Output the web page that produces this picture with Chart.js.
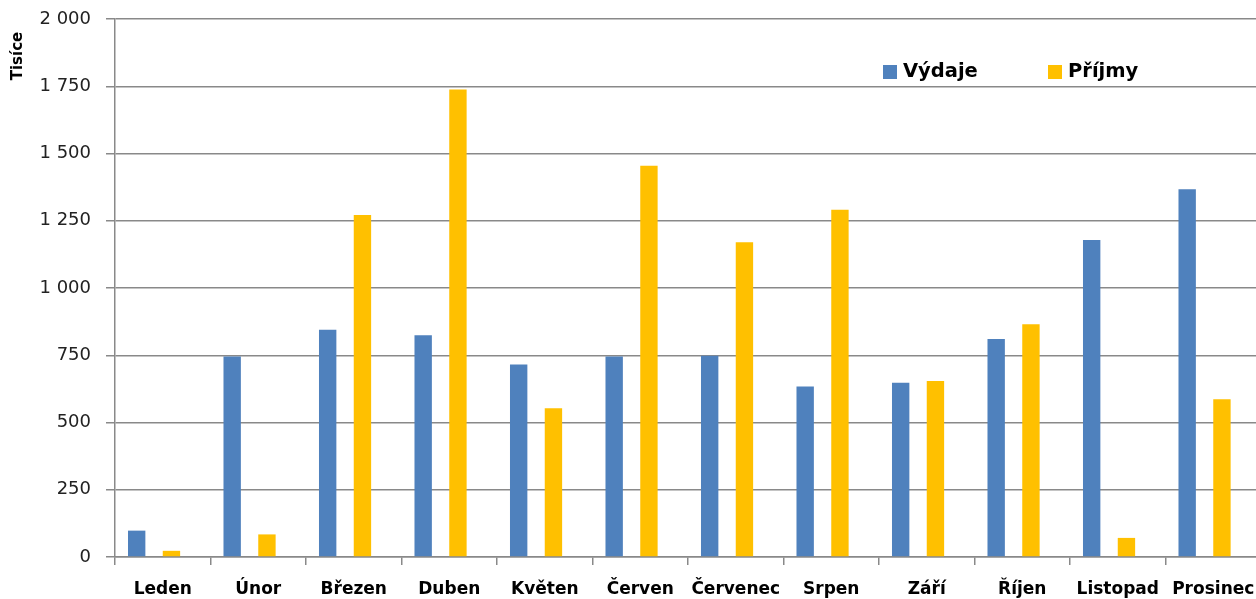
<!DOCTYPE html>
<html><head><meta charset="utf-8">
<script src="https://cdn.jsdelivr.net/npm/chart.js@4/dist/chart.umd.min.js"></script>
<style>
html,body{margin:0;padding:0;background:#fff;overflow:hidden;}
#wrap{position:relative;width:1261px;height:599px;}
</style></head><body>
<div id="wrap"><canvas id="c"></canvas></div>
<script>
const months = ['Leden','Únor','Březen','Duben','Květen','Červen','Červenec','Srpen','Září','Říjen','Listopad','Prosinec'];
const vydaje = [98,745,845,824,716,745,748,634,648,810,1178,1367];
const prijmy = [23,84,1271,1738,553,1454,1170,1291,654,865,71,586];
const yTicks = [0,250,500,750,1000,1250,1500,1750,2000];
const yTickLabels = ['0','250','500','750','1 000','1 250','1 500','1 750','2 000'];
const axisTitle = 'Tisíce';
const seriesNames = ['Výdaje','Příjmy'];
const seriesColors = ['#4F81BD','#FFC000'];
const spacer = months.map(() => null);

const gridColor = '#898989';

const overlay = {
  id: 'overlay',
  afterDraw(chart, args, opts) {
    const ctx = chart.ctx;
    ctx.save();
    ctx.translate(opts.titleX, opts.titleY);
    ctx.rotate(-Math.PI / 2);
    ctx.font = 'bold 15px "DejaVu Sans"';
    ctx.fillStyle = '#000';
    ctx.textAlign = 'center';
    ctx.textBaseline = 'middle';
    ctx.fillText(axisTitle, 0, 0);
    ctx.restore();

    ctx.save();
    ctx.font = 'bold 19.5px "DejaVu Sans"';
    ctx.textBaseline = 'middle';
    ctx.textAlign = 'left';
    seriesNames.forEach((name, i) => {
      const x = opts.legendX[i];
      ctx.fillStyle = seriesColors[i];
      ctx.fillRect(x, opts.legendY - 7, 14, 14);
      ctx.fillStyle = '#000';
      ctx.fillText(name, x + 20, opts.legendY);
    });
    ctx.restore();
  }
};

new Chart(document.getElementById('c'), {
  type: 'bar',
  data: {
    labels: months,
    datasets: [
      { label: seriesNames[0], data: vydaje, backgroundColor: seriesColors[0] },
      { label: '', data: spacer, backgroundColor: 'rgba(0,0,0,0)' },
      { label: seriesNames[1], data: prijmy, backgroundColor: seriesColors[1] },
      { label: '', data: spacer, backgroundColor: 'rgba(0,0,0,0)' }
    ]
  },
  plugins: [overlay],
  options: {
    responsive: true,
    maintainAspectRatio: false,
    animation: false,
    layout: { padding: { top: 19, left: 0, right: 0, bottom: 0 } },
    datasets: { bar: { categoryPercentage: 0.728, barPercentage: 1 } },
    plugins: {
      legend: { display: false },
      tooltip: { enabled: false },
      overlay: { titleX: 18, titleY: 56, legendX: [883, 1048], legendY: 72 }
    },
    scales: {
      x: {
        grid: { drawOnChartArea: false, drawTicks: true, tickLength: 8, color: gridColor, lineWidth: 1.5, offset: true },
        border: { display: true, color: gridColor, width: 1.5 },
        ticks: { color: '#000', font: { family: 'DejaVu Sans', weight: 'bold', size: 17 }, padding: 14, maxRotation: 0, autoSkip: false },
        afterFit: (s) => { s.height = 42; s.paddingLeft = 0; s.paddingRight = 0; }
      },
      y: {
        min: 0, max: 2000,
        ticks: {
          stepSize: 250, padding: 15, color: '#222',
          font: { family: 'DejaVu Sans', size: 18 },
          callback: (v) => yTickLabels[yTicks.indexOf(v)]
        },
        grid: { color: gridColor, lineWidth: 1.5, tickLength: 9 },
        border: { display: true, color: gridColor, width: 1.5 },
        afterFit: (s) => { s.width = 115; s.paddingTop = 0; s.paddingBottom = 0; }
      }
    }
  }
});
</script>
</body></html>
